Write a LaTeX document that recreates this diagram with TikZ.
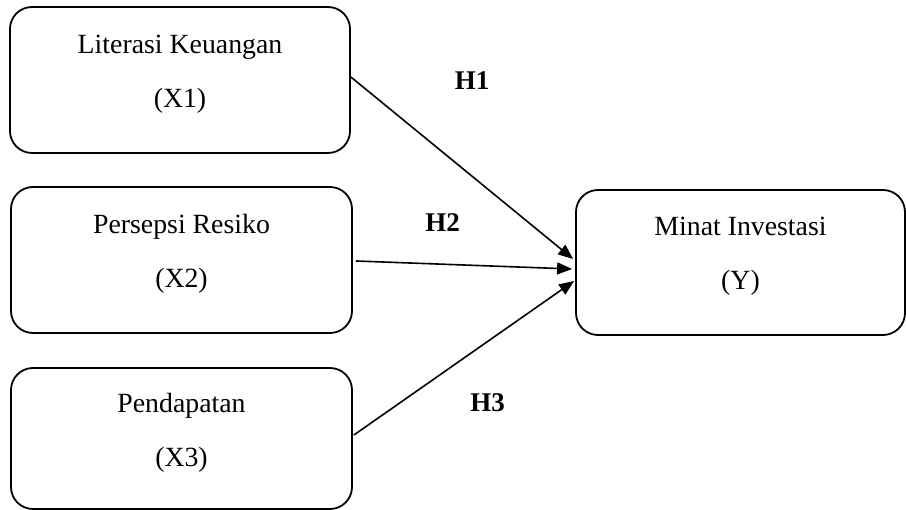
\documentclass[tikz,border=0pt]{standalone}
\usepackage{fontspec}
\setmainfont{Liberation Serif}
\usetikzlibrary{arrows.meta}

\begin{document}
\begin{tikzpicture}[x=1pt, y=-1pt, line width=1.8pt,
    box/.style={draw, rectangle, rounded corners=22pt, align=center, inner sep=0pt, font=\fontsize{27.8}{54}\selectfont},
    hyp/.style={font=\fontsize{27}{32}\selectfont\bfseries},
    link/.style={line width=1.6pt, -{Triangle[length=15pt, width=12pt]}}]
    \useasboundingbox (0,0) rectangle (906,510);
    \node (lit) [box, minimum width=340pt, minimum height=146pt] at (180,80) {Literasi Keuangan\\(X1)\rule[-18pt]{0pt}{1pt}};
    \node (risk) [box, minimum width=341pt, minimum height=146pt] at (181.5,260) {Persepsi Resiko\\(X2)\rule[-18pt]{0pt}{1pt}};
    \node (income) [box, minimum width=341pt, minimum height=141pt] at (181.5,438.5) {Pendapatan\\(X3)\rule[-18pt]{0pt}{1pt}};
    \node (interest) [box, minimum width=329pt, minimum height=145pt] at (740.5,262.5) {Minat Investasi\\(Y)\rule[-18pt]{0pt}{1pt}};
    \node (h1) [hyp] at (472,81) {H1};
    \node (h2) [hyp] at (442.5,223) {H2};
    \node (h3) [hyp] at (487.5,403) {H3};
    \draw[link] ([yshift=3pt]lit.east) -- ([xshift=-2pt, yshift=3.5pt]interest.west);
    \draw[link] ([xshift=3pt, yshift=-1pt]risk.east) -- ([xshift=-3pt, yshift=-6.5pt]interest.west);
    \draw[link] ([xshift=1pt, yshift=3.5pt]income.east) -- ([xshift=-1pt, yshift=-18.5pt]interest.west);
\end{tikzpicture}
\end{document}
